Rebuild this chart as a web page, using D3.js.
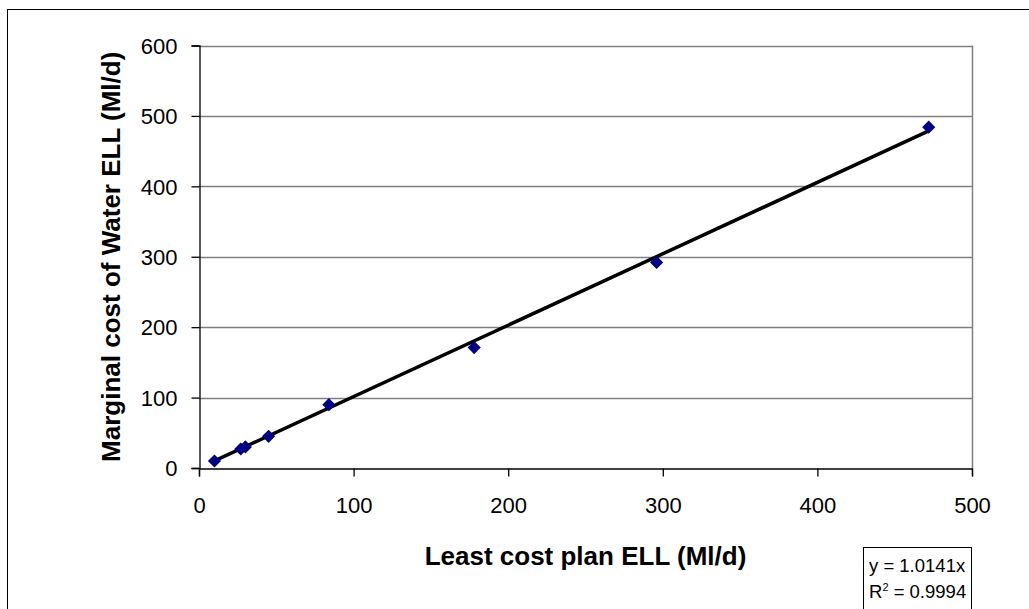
<!DOCTYPE html>
<html>
<head>
<meta charset="utf-8">
<script src="https://cdn.jsdelivr.net/npm/d3@7"></script>
<style>
  body { margin: 0; background: #fff; }
  text { font-family: Arial, "Liberation Sans", sans-serif; }
</style>
</head>
<body>
<div id="chart"></div>
<script>
// least cost plan ELL vs marginal cost of water ELL (Ml/d)
const leastCostELL = [10, 27, 30, 45, 84, 178, 296, 472];
const marginalELL = [10, 27, 30, 45, 90, 171, 292, 484];
const xTicks = [0, 100, 200, 300, 400, 500];
const yTicks = [0, 100, 200, 300, 400, 500, 600];
const trendSlope = 1.0141;
const equationLines = ["y = 1.0141x", "R2 = 0.9994"];

const W = 1029, H = 609;
const plot = { left: 199, top: 45.5, right: 972, bottom: 468 };

const svg = d3.select("#chart").append("svg")
  .attr("width", W)
  .attr("height", H);

// outer chart border
svg.append("rect")
  .attr("x", 7.5).attr("y", 9.5)
  .attr("width", W).attr("height", H)
  .attr("fill", "none")
  .attr("stroke", "#000")
  .attr("stroke-width", 1);

var x = d3.scaleLinear().domain([0, 500]).range([plot.left, plot.right]);
var y = d3.scaleLinear().domain([0, 600]).range([plot.bottom, plot.top]);

// gridlines
svg.append("g")
  .selectAll("line")
  .data(yTicks.filter(d => d > 0))
  .join("line")
  .attr("x1", plot.left).attr("x2", plot.right)
  .attr("y1", d => Math.round(y(d)) + 0.5)
  .attr("y2", d => Math.round(y(d)) + 0.5)
  .attr("stroke", "#808080")
  .attr("stroke-width", 1.5);

// right border of plot area
svg.append("line")
  .attr("x1", plot.right + 0.5).attr("x2", plot.right + 0.5)
  .attr("y1", plot.top).attr("y2", plot.bottom)
  .attr("stroke", "#808080")
  .attr("stroke-width", 1.5);

// axes
const xAxis = svg.append("g")
  .attr("transform", "translate(0," + (Math.round(plot.bottom) + 0.5) + ")")
  .call(d3.axisBottom(x).tickValues(xTicks).tickSize(8).tickPadding(21));
const yAxis = svg.append("g")
  .attr("transform", "translate(" + (plot.left + 0.5) + ",0)")
  .call(d3.axisLeft(y).tickValues(yTicks).tickSize(8).tickPadding(14));

[xAxis, yAxis].forEach(a => {
  a.select(".domain").attr("stroke", "#000").attr("stroke-width", 1.3);
  a.selectAll(".tick line").attr("stroke", "#000").attr("stroke-width", 1.3);
  a.selectAll(".tick text")
    .attr("fill", "#000")
    .style("font-size", "22px")
    .style("font-family", "Arial, 'Liberation Sans', sans-serif");
});
yAxis.selectAll(".tick text").attr("dy", "0.35em");

// trendline (forced through origin)
const xMin = d3.min(leastCostELL), xMax = d3.max(leastCostELL);
svg.append("line")
  .attr("x1", x(xMin)).attr("y1", y(trendSlope * xMin))
  .attr("x2", x(xMax)).attr("y2", y(trendSlope * xMax))
  .attr("stroke", "#000")
  .attr("stroke-width", 3.5);

// diamond markers
const diamond = d3.symbol().type(d3.symbolDiamond2).size(110);
svg.append("g")
  .selectAll("path")
  .data(leastCostELL.map((v, i) => ({ x: v, y: marginalELL[i] })))
  .join("path")
  .attr("transform", d => "translate(" + x(d.x) + "," + y(d.y) + ")")
  .attr("d", diamond)
  .attr("fill", "#000080");

// axis titles
svg.append("text")
  .attr("x", (plot.left + plot.right) / 2)
  .attr("y", 565)
  .attr("text-anchor", "middle")
  .style("font-size", "26px")
  .style("font-weight", "bold")
  .text("Least cost plan ELL (Ml/d)");

svg.append("text")
  .attr("transform", "translate(120," + ((plot.top + plot.bottom) / 2) + ") rotate(-90)")
  .attr("text-anchor", "middle")
  .style("font-size", "26px")
  .style("font-weight", "bold")
  .text("Marginal cost of Water ELL (Ml/d)");

// equation box
svg.append("rect")
  .attr("x", 863.5).attr("y", 547.5)
  .attr("width", 108).attr("height", 80)
  .attr("fill", "#fff")
  .attr("stroke", "#000")
  .attr("stroke-width", 1);

svg.append("text")
  .attr("x", 869).attr("y", 572)
  .style("font-size", "18.5px")
  .text(equationLines[0]);

const r2 = svg.append("text")
  .attr("x", 869).attr("y", 598)
  .style("font-size", "18.5px");
r2.append("tspan").text("R");
r2.append("tspan").attr("dy", -7).style("font-size", "11px").text("2");
r2.append("tspan").attr("dy", 7).text(equationLines[1].slice(2));
</script>
</body>
</html>
